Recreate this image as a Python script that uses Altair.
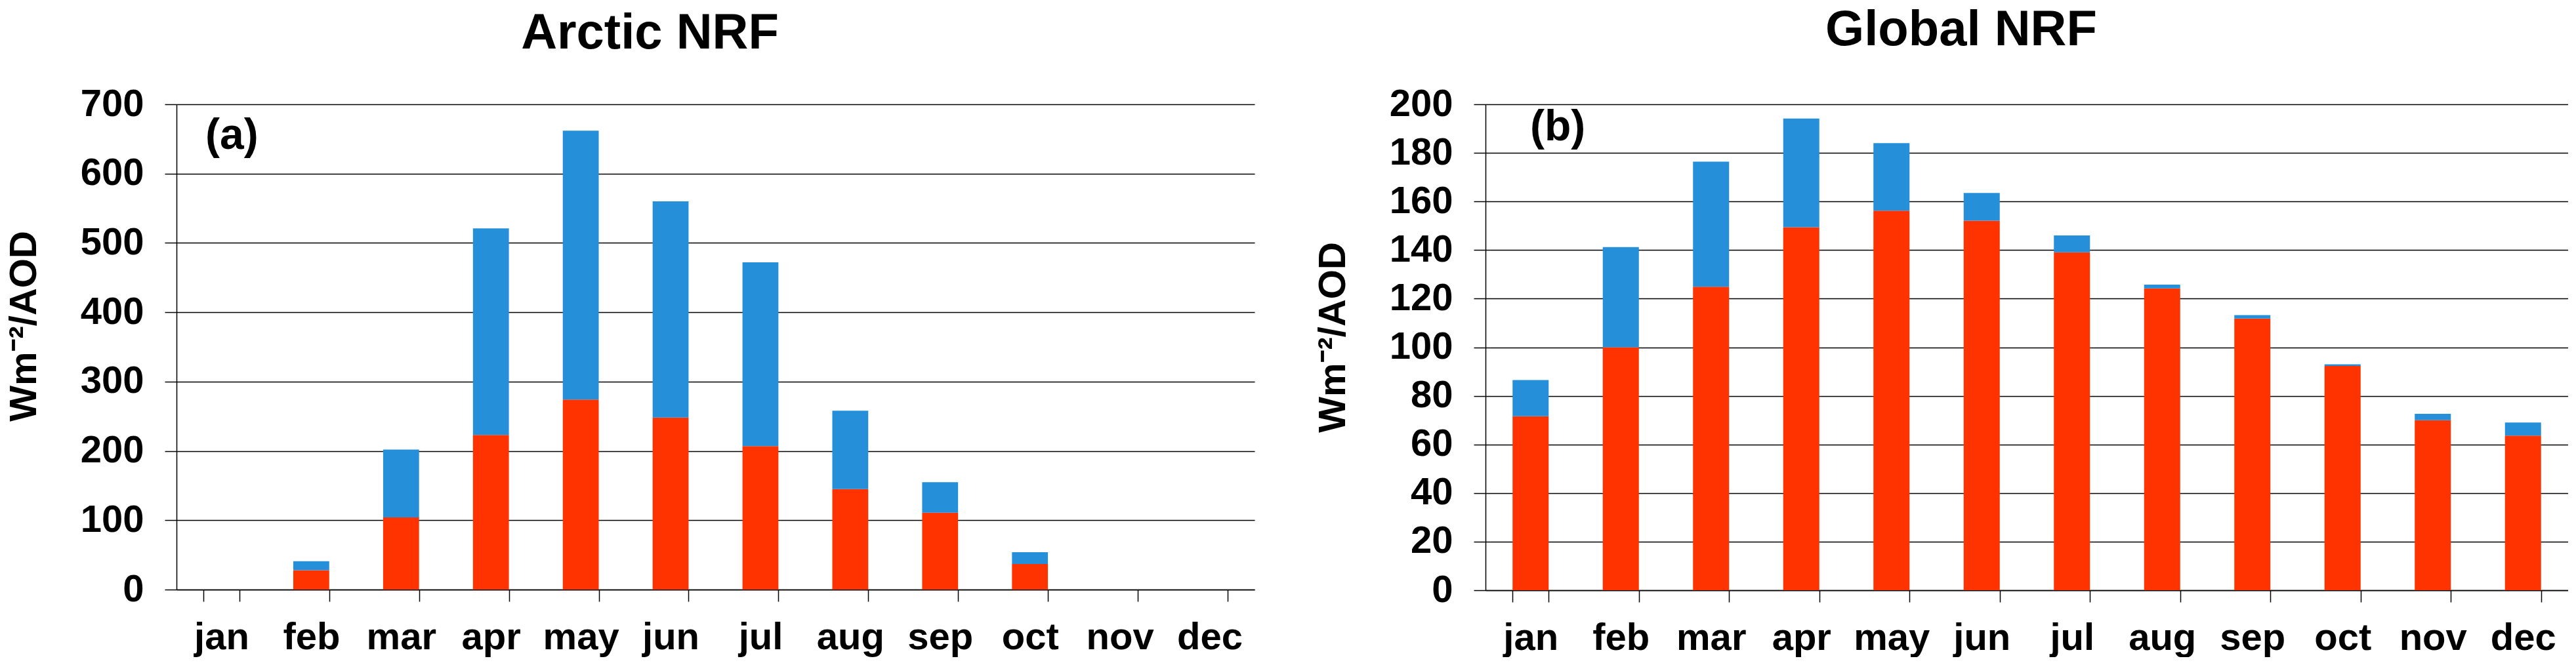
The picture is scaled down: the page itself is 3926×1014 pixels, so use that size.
import altair as alt
import pandas as pd

months = ["jan", "feb", "mar", "apr", "may", "jun", "jul", "aug", "sep", "oct", "nov", "dec"]

arctic_red = [0, 28, 104, 223, 274, 248, 207, 145, 111, 37, 0, 0]
arctic_blue = [0, 13, 98, 298, 388, 312, 265, 113, 44, 17, 0, 0]
global_red = [71.6, 100, 124.9, 149.4, 156.2, 152.1, 139.1, 124.2, 111.8, 92.3, 70, 63.6]
global_blue = [14.9, 41.2, 51.5, 44.7, 27.8, 11.4, 6.9, 1.6, 1.4, 0.7, 2.6, 5.4]

arctic_ticks = [0, 100, 200, 300, 400, 500, 600, 700]
global_ticks = [0, 20, 40, 60, 80, 100, 120, 140, 160, 180, 200]

RED = "#ff3300"
BLUE = "#2590d9"
FONT = "Liberation Sans"
YTITLE = "Wm\u207b\u00b2/AOD"


def panel(red, blue, ticks, title, tag, w, h, tag_x, tag_y, title_offset, title_y):
    df = pd.DataFrame({
        "month": months + months,
        "part": ["lower"] * 12 + ["upper"] * 12,
        "value": red + blue,
        "k": [0] * 12 + [1] * 12,
    })
    bars = alt.Chart(df).mark_bar().encode(
        x=alt.X("month:N", sort=months, title=None,
                scale=alt.Scale(paddingInner=0.6, paddingOuter=0.3),
                axis=alt.Axis(tickBand="extent", labelAngle=0, labelFontSize=58,
                              labelPadding=26, tickSize=18, tickWidth=1.5,
                              domainColor="black", tickColor="black", domainWidth=1.5,
                              grid=False, labelFont=FONT, labelFontWeight="bold",
                              labelColor="black")),
        y=alt.Y("value:Q", stack="zero",
                scale=alt.Scale(domain=[ticks[0], ticks[-1]], nice=False),
                axis=alt.Axis(values=ticks, title=YTITLE, titleFont=FONT,
                              titleFontSize=58, titleFontWeight="bold", titleColor="black",
                              titlePadding=56, titleY=title_y,
                              labelFontSize=58, labelFont=FONT,
                              labelFontWeight="bold", labelColor="black", labelPadding=32,
                              tickSize=18, tickColor="black", tickWidth=1.5,
                              domainColor="black", domainWidth=1.5,
                              grid=True, gridColor="black", gridWidth=1.5, gridOpacity=1)),
        color=alt.Color("part:N", scale=alt.Scale(domain=["lower", "upper"], range=[RED, BLUE]),
                        legend=None),
        order=alt.Order("k:Q", sort="ascending"),
    )
    tag_layer = alt.Chart(pd.DataFrame({"t": [tag]})).mark_text(
        align="left", baseline="alphabetic", fontSize=66, font=FONT,
        fontWeight="bold", color="black"
    ).encode(text="t:N", x=alt.value(tag_x), y=alt.value(tag_y))
    return alt.layer(bars, tag_layer).properties(
        width=w, height=h,
        title=alt.TitleParams(title, fontSize=76, font=FONT, fontWeight="bold",
                              anchor="middle", frame="group", dx=-100,
                              offset=title_offset, color="black"),
    )


left = panel(arctic_red, arctic_blue, arctic_ticks, "Arctic NRF", "(a)", 1643, 740, 44, 68, 40, 338)
right = panel(global_red, global_blue, global_ticks, "Global NRF", "(b)", 1650, 741, 68, 55, 45, 355)

chart = alt.hconcat(left, right, spacing=91).properties(
    padding={"left": 0, "top": 0, "right": 0, "bottom": 0}
).configure_view(strokeWidth=0)

chart.save("out.html", embed_options={"renderer": "svg", "actions": False})
